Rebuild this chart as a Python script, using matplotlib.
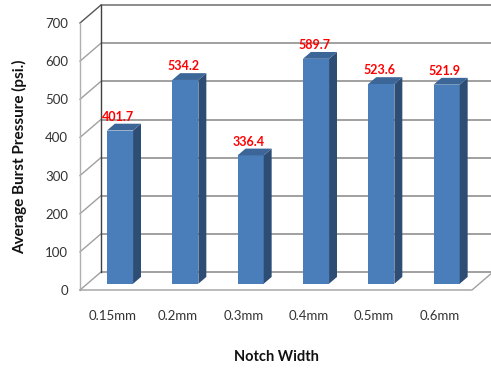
import matplotlib
matplotlib.use("Agg")
import matplotlib.pyplot as plt
from matplotlib.patches import Polygon

categories = ["0.15mm", "0.2mm", "0.3mm", "0.4mm", "0.5mm", "0.6mm"]
pressure = [401.7, 534.2, 336.4, 589.7, 523.6, 521.9]
y_ticks = [0, 100, 200, 300, 400, 500, 600, 700]

W, H = 491, 368
fig = plt.figure(figsize=(W / 100, H / 100), dpi=100)
fig.patch.set_facecolor("white")
ax = fig.add_axes([80 / W, 1 - 290 / H, 392 / W, 267 / H])
ax.set_xlim(-0.5, len(categories) - 0.5)
ax.set_ylim(0, 700)
ax.patch.set_alpha(0)
for s in ax.spines.values():
    s.set_visible(False)

# pseudo-3d box: back wall offset in data units
DX, DY = 0.32, 47.0
BF, BB = 0.35, 0.73     # bar front / back depth fraction
BW = 0.40
x0, x1 = -0.5, len(categories) - 0.5
grid_c = "#a0a0a0"

# back wall gridlines and left wall diagonals
for v in y_ticks:
    top = v == y_ticks[-1]
    ax.plot([x0 + DX, x1 + DX + 0.1], [v + DY, v + DY], color="#8c8c8c" if top else grid_c,
            lw=1.4, zorder=1, clip_on=False, solid_capstyle="butt")
    ax.plot([x0, x0 + DX], [v, v + DY], color="#555555" if top else grid_c,
            lw=1.0, zorder=1, clip_on=False)
# back-left corner, front-left edge
ax.plot([x0 + DX, x0 + DX], [DY, y_ticks[-1] + DY], color="#404040", lw=1.0, zorder=1, clip_on=False)
ax.plot([x0, x0], [0, y_ticks[-1]], color="#b0b0b0", lw=1.0, zorder=1, clip_on=False)
# floor outline
ax.plot([x0, x1, x1 + DX], [0, 0, DY], color=grid_c, lw=1.0, zorder=1, clip_on=False)

front_c, side_c, top_c = "#4a7ebb", "#2e4d74", "#3c6698"
dd = (BB - BF) * DX
for i, v in enumerate(pressure):
    a = i - BW / 2 + BF * DX
    b = i + BW / 2 + BF * DX
    y0 = BF * DY
    yb = BB * DY
    ax.add_patch(Polygon([(a, y0), (b, y0), (b, v + y0), (a, v + y0)],
                         closed=True, fc=front_c, ec="none", zorder=3))
    ax.add_patch(Polygon([(b, y0), (b + dd, yb), (b + dd, v + yb), (b, v + y0)],
                         closed=True, fc=side_c, ec="none", zorder=3))
    ax.add_patch(Polygon([(a, v + y0), (b, v + y0), (b + dd, v + yb), (a + dd, v + yb)],
                         closed=True, fc=top_c, ec="none", zorder=3))
    ax.annotate(f"{v:.1f}", (i + 0.085, v + yb), xytext=(0, 2), textcoords="offset points",
                ha="center", va="baseline", color="#ff0000", fontsize=9,
                fontweight="bold", family="Lato", zorder=4)

ax.set_yticks(y_ticks)
ax.set_yticklabels([str(t) for t in y_ticks], family="Lato", fontsize=9.5, color="#333333")
ax.set_xticks(range(len(categories)))
ax.set_xticklabels(categories, family="Lato", fontsize=9.5, color="#333333")
ax.tick_params(axis="y", length=0, pad=8.5)
ax.tick_params(axis="x", length=0, pad=14.5)

ax.set_xlabel("Notch Width", family="Lato", fontsize=10.5, fontweight="bold",
              color="#111111", labelpad=20)
ax.set_ylabel("Average Burst Pressure (psi.)", family="Lato", fontsize=11,
              fontweight="bold", color="#111111", labelpad=13)

fig.savefig("out.png", dpi=100, facecolor="white")
